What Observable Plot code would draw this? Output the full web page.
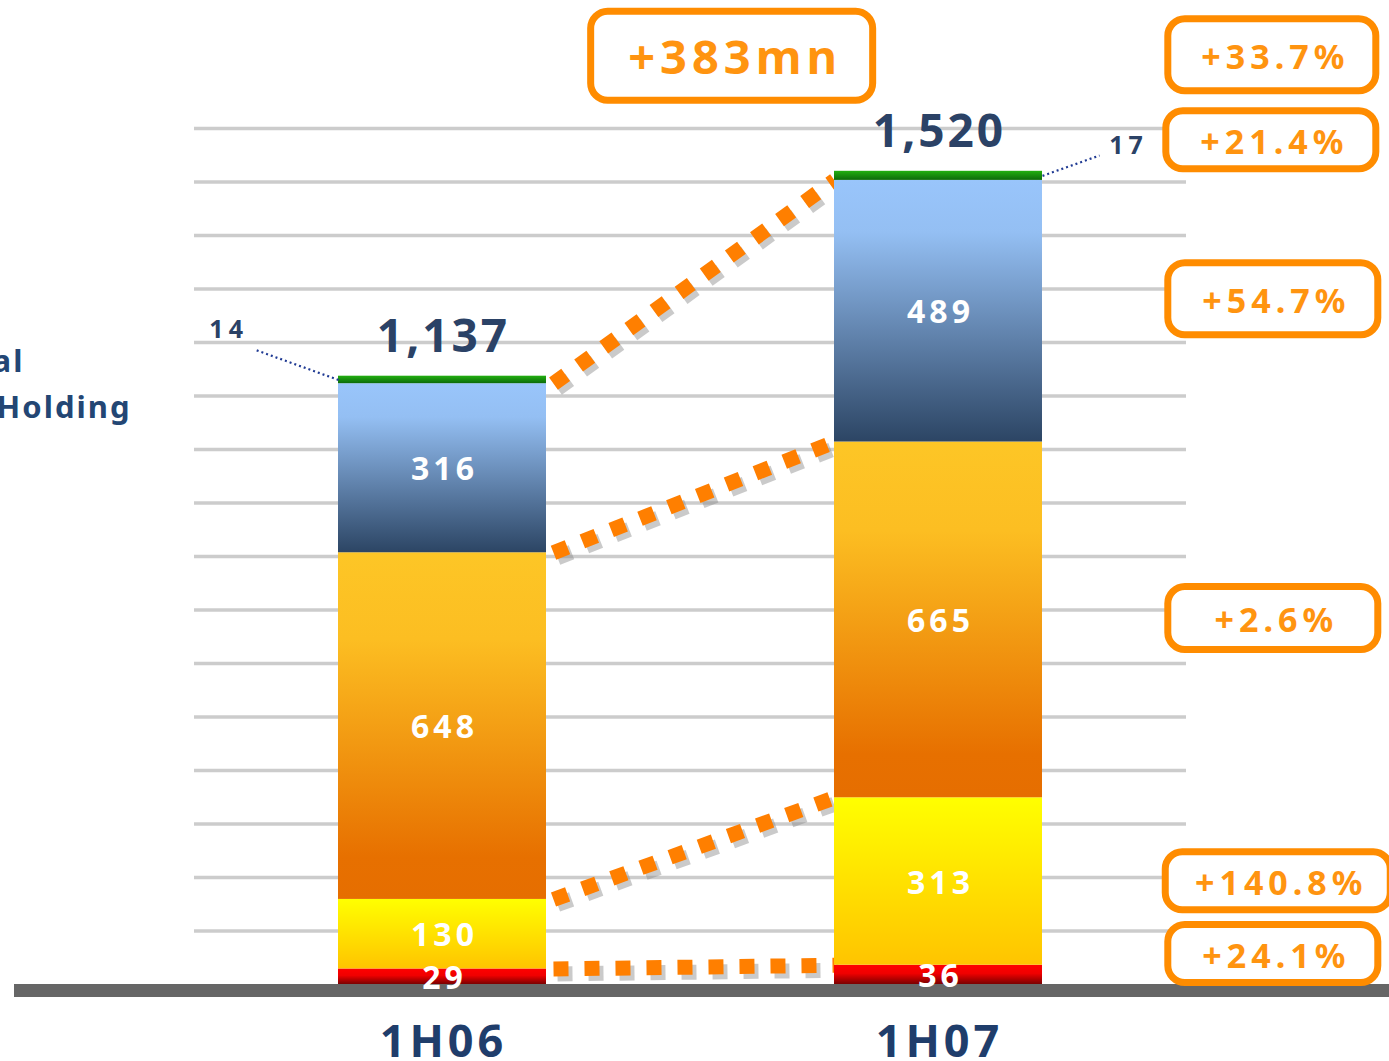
<!DOCTYPE html>
<html>
<head>
<meta charset="utf-8">
<script src="https://cdn.jsdelivr.net/npm/d3@7"></script>
<script src="https://cdn.jsdelivr.net/npm/@observablehq/plot@0.6"></script>
<style>
  html, body { margin: 0; padding: 0; background: #fff; overflow: hidden; }
  svg { display: block; }
</style>
</head>
<body>
<div id="chart"></div>
<script>
// ---------------- data ----------------
const periods = ["1H06", "1H07"];
const segments = ["A", "B", "C", "D", "E"];          // stacked bottom -> top
const values1H06 = [29, 130, 648, 316, 14];
const values1H07 = [36, 313, 665, 489, 17];
const growthLabels = ["+24.1%", "+140.8%", "+2.6%", "+54.7%", "+21.4%"];
const totalGrowthLabel = "+33.7%";
const increaseLabel = "+383mn";
const legendFragments = ["al", "Holding"];
const yTicks = d3.range(100, 1700, 100);

// ---------------- layout / style ----------------
const W = 1389, H = 1061;
const M = {top: 128, right: 203, bottom: 77, left: 194};
const pxX = (W - M.left - M.right) / 2;         // px per x unit
const pxY = (H - M.top - M.bottom) / 1600;      // px per y unit
const barHalf = 104 / pxX;
const segmentFill = {A: "url(#g-red)", B: "url(#g-yellow)", C: "url(#g-orange)", D: "url(#g-blue)", E: "url(#g-green)"};
const navy = "#2b4266";
const orange = "#ff8c00";
const letterSpacing = {"segment-labels": 4, "total-labels": 3, "period-labels": 4, "box-labels": 5, "callout-labels": 5, "legend-labels": 2};

// annotation anchors (data units)
const boxLevels = [57, 193, 684, 1281, 1578];
const boxHeightsPx = [58, 58, 63, 72, 58];
const boxWidthsPx = [210, 225, 210, 210, 210];
const boxCenterX = [1.675, 1.685, 1.675, 1.675, 1.671];
const totalBox = {x: 1.673, y: 1737, w: 208, h: 72};
const increaseBox = {x: 0.584, y: 1735, w: 282, h: 89};
const legendX = [-0.843, -0.627];
const legendY = [1163, 1077];
const calloutShift = [{dx: -0.167, dy: 56}, {dx: 0.115, dy: 38}];

// ---------------- derived tables ----------------
const rows = [];
[values1H06, values1H07].forEach((vals, p) => {
  let c = 0;
  vals.forEach((v, i) => {
    rows.push({period: periods[p], px: p, seg: segments[i], si: i, value: v, y1: c, y2: c + v});
    c += v;
  });
});
const totals = periods.map((p, i) => ({px: i, total: d3.sum(rows.filter(d => d.px === i), d => d.value)}));
const connectors = segments.slice(0, 4).map(s => ({
  from: rows.find(d => d.px === 0 && d.seg === s).y2,
  to: rows.find(d => d.px === 1 && d.seg === s).y2
}));
const greens = rows.filter(d => d.si === 4).map(d => {
  const sh = calloutShift[d.px];
  const x0 = d.px === 0 ? d.px - barHalf : d.px + barHalf;
  const y0 = (d.y1 + d.y2) / 2;
  return {px: d.px, value: d.value, x0, y0, x1: x0 + sh.dx, y1: y0 + sh.dy};
});
const boxes = growthLabels.map((t, i) => ({
  text: t, x: boxCenterX[i], y: boxLevels[i], w: boxWidthsPx[i], h: boxHeightsPx[i], fs: 34
}));
boxes.push({text: totalGrowthLabel, x: totalBox.x, y: totalBox.y, w: totalBox.w, h: totalBox.h, fs: 34});
boxes.push({text: increaseLabel, x: increaseBox.x, y: increaseBox.y, w: increaseBox.w, h: increaseBox.h, fs: 47});

const font = "'Noto Sans', 'Open Sans', sans-serif";

const chart = Plot.plot({
  width: W, height: H,
  marginTop: M.top, marginRight: M.right, marginBottom: M.bottom, marginLeft: M.left,
  x: {domain: [-0.5, 1.5], axis: null},
  y: {domain: [0, 1600], axis: null},
  style: {fontFamily: font, background: "white", overflow: "visible"},
  marks: [
    Plot.ruleY(yTicks, {stroke: "#cccccc", strokeWidth: 3.5}),
    // connector shadows + connectors
    Plot.link(connectors, {x1: barHalf + 7 / pxX, x2: 1 - barHalf, y1: "from", y2: "to",
      stroke: "#8a8a8a", strokeOpacity: 0.45, strokeWidth: 15, strokeDasharray: "15,16", dx: 4, dy: 5}),
    Plot.link(connectors, {x1: barHalf + 7 / pxX, x2: 1 - barHalf, y1: "from", y2: "to",
      stroke: "#ff7f00", strokeWidth: 15, strokeDasharray: "15,16"}),
    // stacked bars
    ...segments.map(s => Plot.rect(rows.filter(d => d.seg === s), {
      x1: d => d.px - barHalf, x2: d => d.px + barHalf, y1: "y1", y2: "y2", fill: segmentFill[s]
    })),
    // baseline
    Plot.ruleY([0], {x1: -0.5 - 180 / pxX, x2: 1.5 + M.right / pxX, stroke: "#666666", strokeWidth: 13, dy: 6}),
    // segment value labels
    Plot.text(rows.filter(d => d.si < 4), {x: "px", y: d => (d.y1 + d.y2) / 2, text: d => String(d.value),
      fill: "white", fontSize: 32, fontWeight: "bold", dx: 2, dy: 2, ariaDescription: "segment-labels"}),
    // totals
    Plot.text(totals, {x: "px", y: "total", text: d => d3.format(",")(d.total), dx: 1, dy: -39,
      fill: navy, fontSize: 46, fontWeight: "bold", ariaDescription: "total-labels"}),
    // small-segment callouts
    Plot.link(greens, {x1: "x0", y1: "y0", x2: "x1", y2: "y1", stroke: "#1f3a93", strokeWidth: 2.2, strokeDasharray: "2,3"}),
    Plot.text(greens.filter(d => d.px === 0), {x: "x1", y: "y1", text: d => String(d.value), dx: -27, dy: -20,
      fill: navy, fontSize: 25, fontWeight: "bold", ariaDescription: "callout-labels"}),
    Plot.text(greens.filter(d => d.px === 1), {x: "x1", y: "y1", text: d => String(d.value), dx: 29, dy: -10,
      fill: navy, fontSize: 25, fontWeight: "bold", ariaDescription: "callout-labels"}),
    // period labels
    Plot.text(periods, {x: (d, i) => i, y: 0, text: d => d, dx: 1, dy: 58, fill: "#1f3d6b", fontSize: 45, fontWeight: "bold", ariaDescription: "period-labels"}),
    // cut-off legend fragments
    Plot.text(legendFragments, {x: (d, i) => legendX[i], y: (d, i) => legendY[i], text: d => d, textAnchor: "end",
      fill: "#234674", fontSize: 31, fontWeight: "bold", ariaDescription: "legend-labels"}),
    // growth boxes
    Plot.rect(boxes, {x1: d => d.x - d.w / 2 / pxX, x2: d => d.x + d.w / 2 / pxX,
      y1: d => d.y - d.h / 2 / pxY, y2: d => d.y + d.h / 2 / pxY,
      fill: "white", stroke: orange, strokeWidth: 7, rx: 17}),
    Plot.text(boxes, {x: "x", y: "y", text: "text", fontSize: d => d.fs, dx: 3, dy: 3,
      fill: "#ff9410", fontWeight: "bold", ariaDescription: "box-labels"})
  ]
});

// gradients
const svg = d3.select(chart);
const defs = svg.insert("defs", ":first-child");
const grads = {
  "g-red": [["0%", "#ff0000"], ["45%", "#f00000"], ["100%", "#7a0000"]],
  "g-yellow": [["0%", "#ffff00"], ["100%", "#ffc400"]],
  "g-orange": [["0%", "#fdc626"], ["25%", "#fcbe22"], ["88%", "#e77000"], ["100%", "#e66e00"]],
  "g-blue": [["0%", "#99c5fb"], ["20%", "#94bff3"], ["100%", "#2c4564"]],
  "g-green": [["0%", "#22b010"], ["100%", "#0c6a0a"]]
};
for (const [id, stops] of Object.entries(grads)) {
  const g = defs.append("linearGradient").attr("id", id).attr("x1", 0).attr("y1", 0).attr("x2", 0).attr("y2", 1);
  for (const [o, c] of stops) g.append("stop").attr("offset", o).attr("stop-color", c);
}
// letter spacing per text group
for (const [label, ls] of Object.entries(letterSpacing)) {
  svg.selectAll(`[aria-description="${label}"]`).each(function () {
    const el = d3.select(this);
    (this.tagName === "text" ? el : el.selectAll("text")).style("letter-spacing", ls + "px");
  });
}
document.getElementById("chart").appendChild(chart);
</script>
</body>
</html>
